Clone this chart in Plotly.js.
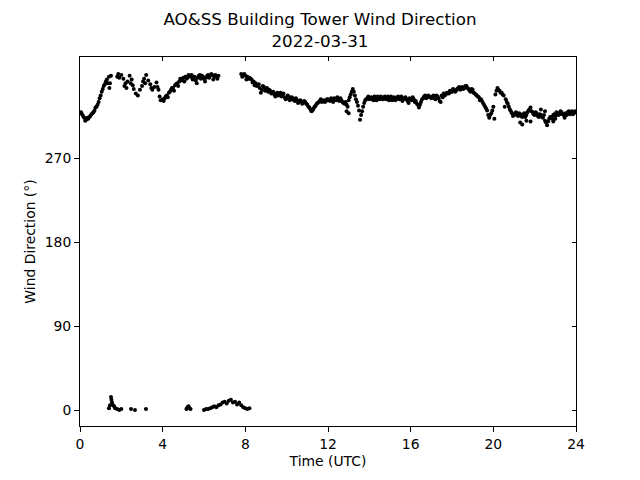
<!DOCTYPE html>
<html>
<head>
<meta charset="utf-8">
<script src="https://cdn.plot.ly/plotly-3.0.1.min.js"></script>
<style>html,body{margin:0;padding:0;background:#fff;}#chart{width:640px;height:480px;}</style>
</head>
<body>
<div id="chart"></div>
<script>
// Main wind-direction readings (hours UTC, degrees)
const timeMain = [
  0.0,0.1,0.2,0.3,0.4,0.5,0.6,0.7,0.8,0.9,1.0,1.1,1.2,1.3,1.4,1.45,1.5,
  1.8,1.85,1.9,2.0,2.1,2.2,2.25,2.3,2.4,2.5,2.6,2.7,2.8,2.9,3.0,3.1,3.2,3.3,3.4,3.5,3.6,3.7,3.8,3.85,3.9,
  4.0,4.1,4.2,4.3,4.4,4.5,4.6,4.7,4.8,4.9,5.0,5.1,5.2,5.3,5.4,5.5,5.6,5.7,5.8,5.9,
  6.0,6.1,6.2,6.3,6.4,6.5,6.6,6.7,
  7.8,7.9,8.0,8.1,8.2,8.3,8.4,8.5,8.6,8.7,8.8,8.9,9.0,9.1,9.2,9.3,9.4,9.5,9.6,9.7,9.8,9.9,
  10.0,10.1,10.2,10.3,10.4,10.5,10.6,10.7,10.8,10.9,11.0,11.1,11.2,11.3,11.4,11.5,11.6,11.7,11.8,11.9,
  12.0,12.1,12.2,12.3,12.4,12.5,12.6,12.7,12.8,12.9,13.0,13.1,13.2,13.3,13.4,13.5,13.6,13.7,13.8,13.9,
  14.0,14.1,14.2,14.3,14.4,14.5,14.6,14.7,14.8,14.9,15.0,15.1,15.2,15.3,15.4,15.5,15.6,15.7,15.8,15.9,
  16.0,16.1,16.2,16.3,16.4,16.5,16.6,16.7,16.8,16.9,17.0,17.1,17.2,17.3,17.4,17.5,17.6,17.7,17.8,17.9,
  18.0,18.1,18.2,18.3,18.4,18.5,18.6,18.7,18.8,18.9,19.0,19.1,19.2,19.3,19.4,19.5,19.6,19.7,19.8,19.9,
  20.0,20.1,20.2,20.3,20.4,20.5,20.6,20.7,20.8,20.9,21.0,21.1,21.2,21.3,21.4,21.5,21.6,21.7,21.8,21.9,
  22.0,22.1,22.2,22.3,22.4,22.5,22.6,22.7,22.8,22.9,23.0,23.1,23.2,23.3,23.4,23.5,23.6,23.7,23.8,23.9,24.0
];
const dirMain = [
  318,317,313,311,312,315,318,321,325,330,337,344,349,354,357,350,358,
  357,360,356,359,355,350,345,352,358,354,344,339,337,343,347,355,359,353,349,343,346,351,343,336,332,
  333,334,337,340,343,345,348,350,352,354,356,357,356,358,359,356,353,356,359,358,
  355,356,359,358,359,357,357,358,
  360,359,358,357,356,354,352,350,348,345,343,346,344,341,342,340,338,339,337,340,338,335,
  334,336,333,334,331,332,330,331,329,330,327,324,320,323,326,329,331,330,332,331,
  333,331,332,334,332,333,334,330,328,327,332,338,344,337,330,321,316,325,332,334,
  333,335,332,334,336,333,335,334,333,336,334,332,335,333,336,334,331,334,333,329,
  333,335,330,328,324,330,334,337,335,336,334,337,333,336,331,337,339,338,340,342,
  341,343,342,345,343,346,345,347,344,341,343,339,337,335,333,329,325,321,313,318,
  325,338,345,342,340,337,333,328,322,318,316,319,315,317,314,318,316,321,324,319,
  316,318,314,316,313,310,305,312,314,316,315,318,317,319,316,318,319,317,320,318,319
];
// Readings between the main ones
const timeBetween = [
  0.05,0.15,0.25,0.35,0.45,0.55,0.65,0.75,0.85,0.95,1.05,1.15,1.25,
  4.05,4.15,4.35,4.45,4.65,4.85,4.95,5.15,5.25,5.35,5.45,5.55,5.75,5.85,5.95,6.15,6.25,6.35,6.55,6.65,
  7.85,7.95,8.15,8.25,8.35,8.55,8.65,8.85,8.95,9.05,9.15,9.25,9.35,9.45,9.55,9.65,9.75,9.85,9.95,
  10.05,10.15,10.25,10.35,10.45,10.55,10.65,10.75,10.85,10.95,11.05,11.15,11.25,11.35,11.45,11.55,11.65,11.75,11.85,11.95,
  12.05,12.15,12.25,12.35,12.45,12.55,12.65,12.75,12.85,12.95,13.05,13.15,13.25,13.35,13.45,13.65,13.75,13.85,13.95,
  14.05,14.15,14.25,14.35,14.45,14.55,14.65,14.75,14.85,14.95,15.05,15.15,15.25,15.35,15.45,15.55,15.65,15.75,15.85,15.95,
  16.05,16.15,16.25,16.45,16.55,16.65,16.75,16.85,16.95,17.05,17.15,17.25,17.35,17.55,17.65,17.75,17.85,17.95,
  18.05,18.15,18.25,18.35,18.45,18.55,18.65,18.75,18.85,18.95,19.05,19.15,19.25,19.35,19.45,19.55,19.65,19.85,19.95,
  20.15,20.25,20.35,20.45,20.65,20.75,20.85,20.95,21.05,21.15,21.25,21.35,21.45,21.55,21.65,21.75,21.85,21.95,
  22.05,22.15,22.25,22.35,22.45,22.55,22.65,22.75,22.85,22.95,23.05,23.15,23.25,23.35,23.55,23.65,23.75,23.85,23.95
];
const dirBetween = [
  319,315,310,313,314,317,319,324,327,334,341,347,352,
  331,336,341,345,349,355,353,355,359,357,354,357,358,355,357,358,356,360,359,355,
  357,360,355,355,351,347,349,347,342,345,343,339,341,336,340,338,336,339,333,
  337,332,335,332,334,329,332,328,331,328,325,322,321,325,328,330,333,331,330,333,
  332,334,330,333,335,331,332,329,330,325,335,341,341,333,326,320,329,333,336,
  334,333,336,332,334,336,333,336,335,332,336,334,332,335,333,336,333,335,331,334,
  332,333,331,327,333,336,334,337,335,336,334,337,334,335,337,340,339,341,
  344,341,344,346,345,344,347,345,342,344,340,338,336,332,331,327,323,316,321,
  342,343,340,338,330,325,320,315,318,316,318,315,317,314,319,322,320,317,
  319,315,317,314,316,308,309,314,312,317,319,316,320,317,316,320,318,317,320
];
// Scattered readings away from the main band
const timeScatter = [1.35,1.42,2.15,2.45,2.55,3.05,3.15,3.45,3.75,4.25,4.55,4.75,5.05,5.65,6.05,6.45,8.05,8.45,8.75,
  12.9,13.0,13.55,16.35,17.45,19.75,20.05,20.55,21.3,21.4,21.6,21.8,22.3,22.5,22.9,23.0,23.45];
const dirScatter = [350,345,347,350,348,352,350,345,346,335,342,347,352,350,352,354,354,348,340,
  320,318,311,327,330,316,312,325,308,306,310,309,322,320,309,312,313];
// Readings wrapped past north (shown near 0°)
const timeNorth = [1.4,1.45,1.5,1.52,1.55,1.6,1.65,1.7,1.8,1.9,2.0,2.47,2.66,3.19,
  5.15,5.2,5.25,5.3,5.35,
  6.0,6.1,6.2,6.3,6.4,6.5,6.6,6.7,6.8,6.9,7.0,7.1,7.2,7.3,7.4,7.5,7.6,7.7,7.8,7.9,8.0,8.1,8.2];
const dirNorth = [2,5,14,11,8,5,4,2,1,0,1,1,0,1,
  1,3,4,2,1,
  0,1,1,2,3,4,3,5,6,8,9,7,10,11,8,9,6,8,5,3,2,1,2];

const xTicks = [0,4,8,12,16,20,24];
const yTicks = [0,90,180,270];

const mk = {color:'black', size:4};
const traces = [
  {x: timeMain, y: dirMain, type:'scatter', mode:'markers', marker: mk, hoverinfo:'skip'},
  {x: timeBetween, y: dirBetween, type:'scatter', mode:'markers', marker: mk, hoverinfo:'skip'},
  {x: timeScatter, y: dirScatter, type:'scatter', mode:'markers', marker: mk, hoverinfo:'skip'},
  {x: timeNorth, y: dirNorth, type:'scatter', mode:'markers', marker: mk, hoverinfo:'skip'},
  {x: [null], y: [null], xaxis:'x2', yaxis:'y2', type:'scatter', mode:'markers', hoverinfo:'skip'}
];
const font = {family:'DejaVu Sans, sans-serif', color:'black'};
const yRange = [-17.1, 378.2];
const layout = {
  width:640, height:480,
  paper_bgcolor:'white', plot_bgcolor:'white',
  showlegend:false,
  margin:{l:80, r:64, t:57, b:54},
  font: font,
  title:{text:'AO&SS Building Tower Wind Direction<br>2022-03-31', font:{family:font.family, size:16.7, color:'black'},
    x:0.5, xanchor:'center', y:0.947, yanchor:'top', yref:'container'},
  xaxis:{range:[0,24], tickvals:xTicks, ticktext:xTicks.map(String), ticks:'outside', ticklen:5, tickwidth:1, tickcolor:'black',
    showline:true, linecolor:'black', linewidth:1, mirror:true, showgrid:false, zeroline:false,
    tickfont:{family:font.family, size:13.9, color:'black'},
    title:{text:'Time (UTC)', font:{family:font.family, size:13.9, color:'black'}, standoff:5}, automargin:false},
  yaxis:{range:yRange, tickvals:yTicks, ticktext:yTicks.map(String), ticks:'outside', ticklen:5, tickwidth:1, tickcolor:'black',
    showline:true, linecolor:'black', linewidth:1, mirror:true, showgrid:false, zeroline:false,
    tickfont:{family:font.family, size:13.9, color:'black'},
    title:{text:'Wind Direction (°)', font:{family:font.family, size:13.9, color:'black'}, standoff:5}, automargin:false},
  xaxis2:{overlaying:'x', side:'top', range:[0,24], tickvals:xTicks, ticks:'inside', ticklen:4, tickwidth:1, tickcolor:'black',
    showticklabels:false, showgrid:false, zeroline:false, showline:false},
  yaxis2:{overlaying:'y', side:'right', range:yRange, tickvals:yTicks, ticks:'inside', ticklen:4, tickwidth:1, tickcolor:'black',
    showticklabels:false, showgrid:false, zeroline:false, showline:false}
};
Plotly.newPlot('chart', traces, layout, {staticPlot:true, displayModeBar:false});
</script>
</body>
</html>
